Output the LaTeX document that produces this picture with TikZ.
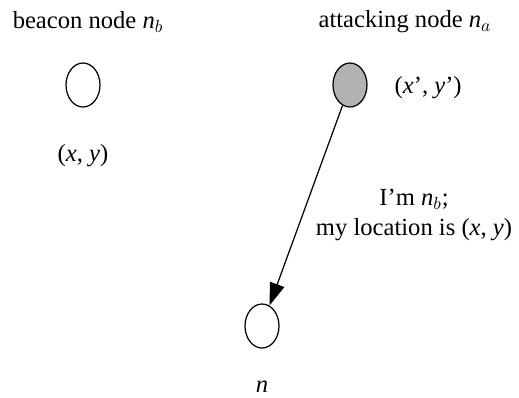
\documentclass[tikz,border=0pt]{standalone}
\usepackage{fontspec}
\setmainfont{Liberation Serif}
\usetikzlibrary{positioning,arrows.meta,shapes.geometric}

\begin{document}
\begin{tikzpicture}[
  x=0.02cm,y=-0.02cm,
  font=\fontsize{14}{17}\selectfont,
  sensor/.style={draw,ellipse,line width=0.7pt,minimum width=0.68cm,minimum height=0.88cm,inner sep=0pt},
  rogue/.style={sensor,fill=gray!60},
  lbl/.style={inner sep=1pt},
  msg/.style={-{Triangle[length=0.45cm,width=0.3cm]},line width=0.7pt}
]
\useasboundingbox (0,0) rectangle (519,397);
\node[sensor] (nb) at (83,85) {};
\node[rogue] (na) at (350,85) {};
\node[sensor] (n) at (262,326) {};

\node[lbl] (nbname) at (88,22) {beacon node \textit{n}$_b$};
\node[lbl] (naname) at (405,22) {attacking node \textit{n}$_a$};
\node[lbl,below=0.7cm of nb] (nbpos) {(\textit{x}, \textit{y})};
\node[lbl,right=0.5cm of na,yshift=-0.06cm] (napos) {(\textit{x}', \textit{y}')};
\node[lbl,below=0.6cm of n] (nname) {\textit{n}};
\node[lbl,align=center] (claim) at (414,215)
  {I'm \textit{n}$_b$;\\ my location is (\textit{x}, \textit{y})};

\draw[msg] (na) -- (n);
\end{tikzpicture}
\end{document}
